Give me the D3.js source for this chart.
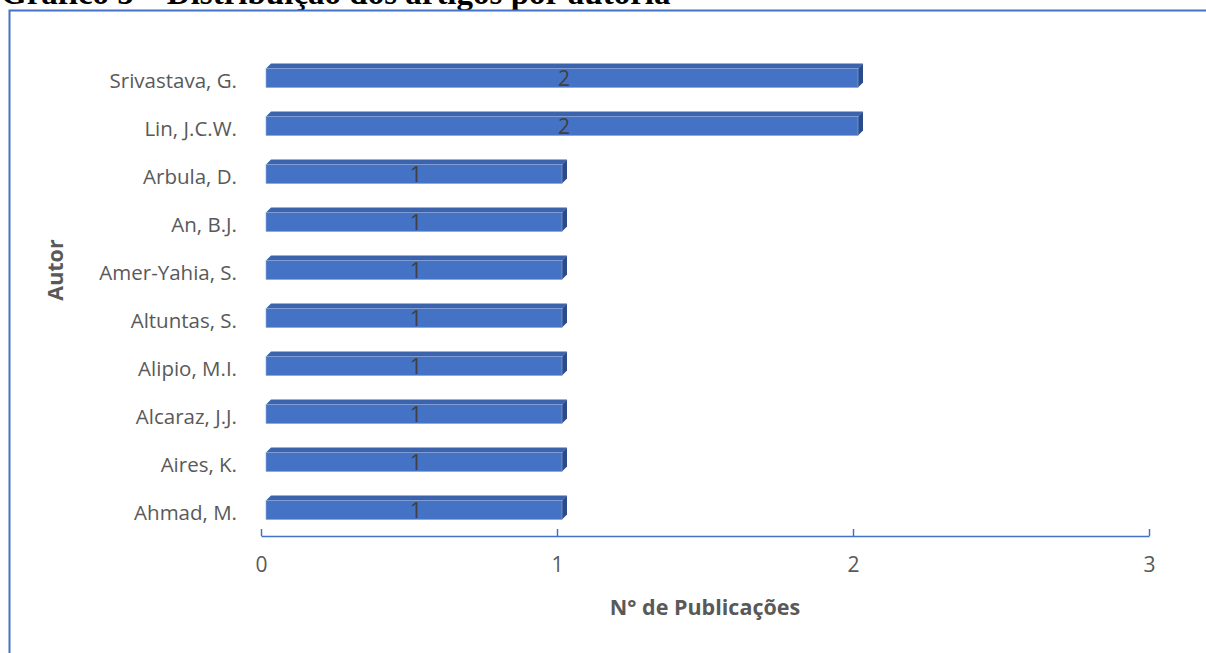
<!DOCTYPE html>
<html>
<head>
<meta charset="utf-8">
<script src="https://cdn.jsdelivr.net/npm/d3@7"></script>
<style>
  body { margin: 0; background: #fff; }
  svg { display: block; }
</style>
</head>
<body>
<svg></svg>
<script>
// authors from bottom to top of the chart
var authors = ["Ahmad, M.", "Aires, K.", "Alcaraz, J.J.", "Alipio, M.I.", "Altuntas, S.",
               "Amer-Yahia, S.", "An, B.J.", "Arbula, D.", "Lin, J.C.W.", "Srivastava, G."];
var publications = [1, 1, 1, 1, 1, 1, 1, 1, 2, 2];
var xTicks = [0, 1, 2, 3];

var titleText = "Gráfico 5 – Distribuição dos artigos por autoria";
var xTitle = "N° de Publicações";
var yTitle = "Autor";

var width = 1206, height = 653;
var depth = 5;   // 3d offset of the bars
var font = "Open Sans, sans-serif";

var svg = d3.select("svg")
  .attr("width", width)
  .attr("height", height);

// title, cut at top like the page scan
svg.append("text")
  .attr("x", 1)
  .attr("y", 4)
  .attr("font-family", "Liberation Serif, Times New Roman, serif")
  .attr("font-weight", "bold")
  .attr("font-size", 33)
  .attr("fill", "#000")
  .text(titleText);

// chart frame
svg.append("path")
  .attr("d", "M9.5," + (height + 5) + "V10.5H" + (width + 5))
  .attr("fill", "none")
  .attr("stroke", "#4472C4")
  .attr("stroke-width", 2);

var x = d3.scaleLinear().domain([0, 3]).range([261, 1149]);
var y = d3.scaleBand()
  .domain(authors)
  .range([534, 54])
  .paddingInner(0.6)
  .paddingOuter(0.3);

// x axis, ticks pointing up
var xAxis = svg.append("g")
  .attr("transform", "translate(0,536)")
  .call(d3.axisBottom(x).tickValues(xTicks).tickFormat(d3.format("d"))
    .tickSizeInner(-7).tickSizeOuter(0).tickPadding(21));
xAxis.attr("font-size", null).attr("font-family", null);
xAxis.select(".domain").attr("stroke", "#4472C4").attr("stroke-width", 1.5);
xAxis.selectAll(".tick line").attr("stroke", "#4472C4").attr("stroke-width", 1.5);
xAxis.selectAll(".tick text")
  .style("font-family", font)
  .style("font-size", "21px")
  .attr("fill", "#595959");

// category labels
var yAxis = svg.append("g")
  .attr("transform", "translate(245,0)")
  .call(d3.axisLeft(y).tickSize(0).tickPadding(8));
yAxis.attr("font-size", null).attr("font-family", null);
yAxis.select(".domain").remove();
yAxis.selectAll(".tick text")
  .style("font-family", font)
  .style("font-size", "20.5px")
  .attr("fill", "#595959")
  .attr("dy", "0.5em");

var bars = svg.selectAll(".bar")
  .data(authors.map(function(a, i) { return {name: a, value: publications[i]}; }))
  .enter().append("g")
  .attr("class", "bar");

function front(d) {
  var x0 = x(0) + 5, x1 = x(d.value) + 5, y0 = y(d.name), y1 = y(d.name) + y.bandwidth();
  return {x0: x0, x1: x1, y0: y0, y1: y1};
}

// top face
bars.append("path")
  .attr("d", function(d) {
    var f = front(d);
    return "M" + f.x0 + "," + f.y0 + "L" + (f.x0 + depth) + "," + (f.y0 - depth) +
      "L" + (f.x1 + depth) + "," + (f.y0 - depth) + "L" + f.x1 + "," + f.y0 + "Z";
  })
  .attr("fill", "#3B64AD");

// side face
bars.append("path")
  .attr("d", function(d) {
    var f = front(d);
    return "M" + f.x1 + "," + f.y0 + "L" + (f.x1 + depth) + "," + (f.y0 - depth) +
      "L" + (f.x1 + depth) + "," + (f.y1 - depth) + "L" + f.x1 + "," + f.y1 + "Z";
  })
  .attr("fill", "#2B4C8C");

// front face
bars.append("rect")
  .attr("x", function(d) { return front(d).x0; })
  .attr("y", function(d) { return front(d).y0; })
  .attr("width", function(d) { return front(d).x1 - front(d).x0; })
  .attr("height", y.bandwidth())
  .attr("fill", "#4472C4")
  .attr("stroke", "#8FAADC")
  .attr("stroke-width", 0.6);

// value labels
bars.append("text")
  .attr("x", function(d) { return (front(d).x0 + front(d).x1) / 2 + 2; })
  .attr("y", function(d) { return y(d.name) + y.bandwidth() / 2; })
  .attr("dy", "0.36em")
  .attr("text-anchor", "middle")
  .style("font-family", font)
  .style("font-size", "21px")
  .attr("fill", "#404040")
  .text(function(d) { return d.value; });

// axis titles
svg.append("text")
  .attr("x", 705)
  .attr("y", 615)
  .attr("text-anchor", "middle")
  .attr("font-family", font)
  .attr("font-weight", "bold")
  .attr("font-size", 21.5)
  .attr("fill", "#595959")
  .text(xTitle);

svg.append("text")
  .attr("transform", "translate(63,270) rotate(-90)")
  .attr("text-anchor", "middle")
  .attr("font-family", font)
  .attr("font-weight", "bold")
  .attr("font-size", 21.5)
  .attr("fill", "#595959")
  .text(yTitle);
</script>
</body>
</html>
